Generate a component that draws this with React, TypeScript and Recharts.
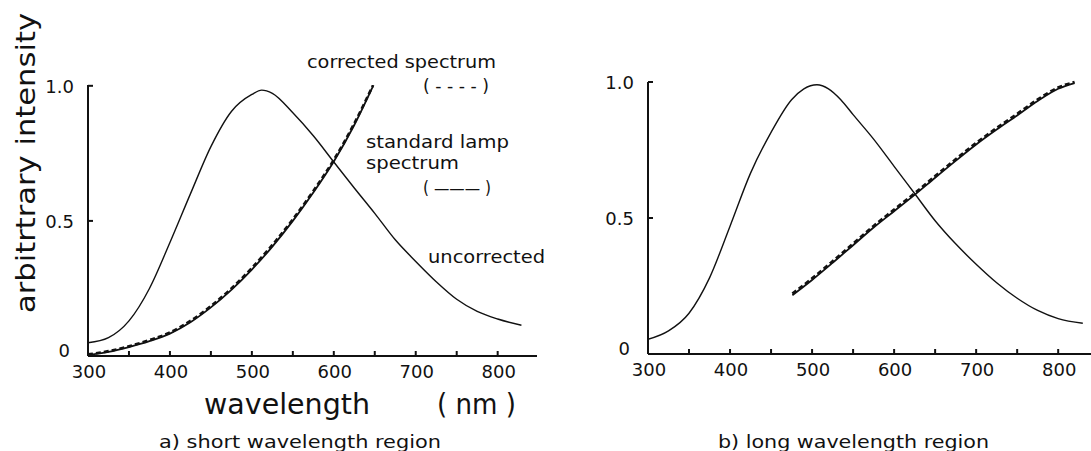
import React from 'react'
import { LineChart, Line, XAxis, YAxis } from 'recharts'

// a) short wavelength region
const leftUncNm = [300, 325, 350, 375, 400, 425, 450, 475, 500, 512, 525, 550, 575, 600, 625, 650, 675, 700, 725, 750, 775, 800, 829]
const leftUncVal = [0.049, 0.068, 0.13, 0.25, 0.42, 0.6, 0.775, 0.905, 0.968, 0.984, 0.972, 0.9, 0.815, 0.718, 0.622, 0.528, 0.43, 0.35, 0.275, 0.21, 0.165, 0.137, 0.114]
const leftLampNm = [300, 325, 350, 375, 400, 425, 450, 475, 500, 525, 550, 575, 600, 625, 648]
const leftLampVal = [0.003, 0.015, 0.033, 0.055, 0.083, 0.125, 0.18, 0.245, 0.32, 0.405, 0.5, 0.605, 0.72, 0.855, 1.0]
const leftCorrVal = [0.006, 0.018, 0.036, 0.059, 0.087, 0.13, 0.185, 0.25, 0.326, 0.411, 0.506, 0.611, 0.726, 0.861, 1.003]

// b) long wavelength region
const rightUncNm = [300, 325, 350, 375, 400, 425, 450, 475, 490, 506, 520, 535, 550, 575, 600, 625, 650, 675, 700, 725, 750, 775, 800, 830]
const rightUncVal = [0.054, 0.085, 0.15, 0.28, 0.47, 0.665, 0.815, 0.935, 0.975, 0.99, 0.975, 0.935, 0.88, 0.79, 0.69, 0.59, 0.49, 0.405, 0.33, 0.262, 0.205, 0.16, 0.13, 0.113]
const rightLampNm = [476, 500, 525, 550, 575, 600, 625, 650, 675, 700, 725, 750, 775, 800, 820]
const rightLampVal = [0.216, 0.272, 0.335, 0.4, 0.465, 0.525, 0.585, 0.648, 0.71, 0.77, 0.825, 0.877, 0.93, 0.975, 0.996]
const rightCorrVal = [0.222, 0.278, 0.341, 0.406, 0.471, 0.531, 0.591, 0.654, 0.716, 0.776, 0.831, 0.883, 0.936, 0.98, 1.0]

const xTicks = [300, 350, 400, 450, 500, 550, 600, 650, 700, 750, 800]
const yTicks = [0, 0.5, 1.0]
const yTickLabels = ['0', '0.5', '1.0']

const FONT = '"DejaVu Sans", sans-serif'
const INK = '#111'

const toPoints = (nm: number[], v: number[]) => nm.map((x, i) => ({ nm: x, v: v[i] }))

const XTick = ({ x, y, payload }: any) => {
  const show = payload.value % 100 === 0
  return (
    <g>
      <line x1={x} y1={y} x2={x} y2={y - 5} stroke={INK} strokeWidth={2} />
      {show && (
        <text x={x + 1} y={y + 22} textAnchor="middle" fontSize={18} fontFamily={FONT} fill={INK}>
          {payload.value}
        </text>
      )}
    </g>
  )
}

const YTick = ({ x, y, payload }: any) => {
  const idx = yTicks.indexOf(payload.value)
  const isZero = payload.value === 0
  return (
    <g>
      <line x1={x} y1={y} x2={x + 5} y2={y} stroke={INK} strokeWidth={2} />
      <text x={x - (isZero ? 18 : 14)} y={y + (isZero ? 1 : 7)} textAnchor="end" fontSize={18} fontFamily={FONT} fill={INK}>
        {yTickLabels[idx]}
      </text>
    </g>
  )
}

interface PanelProps {
  width: number
  margin: { top: number; right: number; bottom: number; left: number }
  domain: [number, number]
  unc: { nm: number; v: number }[]
  lamp: { nm: number; v: number }[]
  corr: { nm: number; v: number }[]
}

function Panel({ width, margin, domain, unc, lamp, corr }: PanelProps) {
  return (
    <LineChart width={width} height={451} margin={margin}>
      <XAxis
        dataKey="nm"
        type="number"
        domain={domain}
        ticks={xTicks}
        interval={0}
        allowDataOverflow
        height={30}
        tickSize={0}
        tickMargin={0}
        tickLine={false}
        axisLine={{ stroke: INK, strokeWidth: 2 }}
        tick={<XTick />}
      />
      <YAxis
        type="number"
        domain={[0, 1]}
        ticks={yTicks}
        interval={0}
        width={40}
        tickSize={0}
        tickMargin={0}
        tickLine={false}
        axisLine={{ stroke: INK, strokeWidth: 2 }}
        tick={<YTick />}
      />
      <Line data={unc} dataKey="v" type="monotone" stroke={INK} strokeWidth={1.4} dot={false} isAnimationActive={false} />
      <Line data={lamp} dataKey="v" type="monotone" stroke={INK} strokeWidth={1.8} dot={false} isAnimationActive={false} />
      <Line data={corr} dataKey="v" type="monotone" stroke={INK} strokeWidth={2.6} strokeDasharray="5 3" dot={false} isAnimationActive={false} />
    </LineChart>
  )
}

export default function App() {
  const textStyle = { fontFamily: FONT, fill: INK }
  return (
    <div style={{ position: 'absolute', left: 0, top: 0, width: 1091, height: 451, background: '#fff', overflow: 'hidden' }}>
      <div style={{ position: 'absolute', left: 0, top: 0 }}>
        <Panel
          width={560}
          margin={{ top: 85, right: 23, bottom: 65, left: 48 }}
          domain={[300, 848]}
          unc={toPoints(leftUncNm, leftUncVal)}
          lamp={toPoints(leftLampNm, leftLampVal)}
          corr={toPoints(leftLampNm, leftCorrVal)}
        />
      </div>
      <div style={{ position: 'absolute', left: 560, top: 0 }}>
        <Panel
          width={531}
          margin={{ top: 82, right: 0, bottom: 67, left: 48 }}
          domain={[300, 840]}
          unc={toPoints(rightUncNm, rightUncVal)}
          lamp={toPoints(rightLampNm, rightLampVal)}
          corr={toPoints(rightLampNm, rightCorrVal)}
        />
      </div>
      <svg width={1091} height={451} style={{ position: 'absolute', left: 0, top: 0, pointerEvents: 'none' }}>
        <text transform="translate(35,163) rotate(-90)" textAnchor="middle" fontSize={26} textLength={300} lengthAdjust="spacingAndGlyphs" {...textStyle}>
          arbitrtrary intensity
        </text>
        <text x={204} y={414} fontSize={29} textLength={166} lengthAdjust="spacingAndGlyphs" {...textStyle}>wavelength</text>
        <text x={437} y={414} fontSize={29} textLength={79} lengthAdjust="spacingAndGlyphs" {...textStyle}>( nm )</text>
        <text x={159} y={448} fontSize={17} textLength={282} lengthAdjust="spacingAndGlyphs" {...textStyle}>a)  short wavelength region</text>
        <text x={718} y={448} fontSize={17} textLength={271} lengthAdjust="spacingAndGlyphs" {...textStyle}>b)  long wavelength region</text>
        <text x={307} y={68} fontSize={18} textLength={189} lengthAdjust="spacingAndGlyphs" {...textStyle}>corrected spectrum</text>
        <text x={423} y={92} fontSize={18} textLength={66} lengthAdjust="spacingAndGlyphs" {...textStyle}>( - - - - )</text>
        <text x={366} y={148} fontSize={18} textLength={143} lengthAdjust="spacingAndGlyphs" {...textStyle}>standard lamp</text>
        <text x={366} y={169} fontSize={18} textLength={93} lengthAdjust="spacingAndGlyphs" {...textStyle}>spectrum</text>
        <text x={423} y={194} fontSize={18} textLength={68} lengthAdjust="spacingAndGlyphs" {...textStyle}>( ——— )</text>
        <text x={428} y={263} fontSize={18} textLength={117} lengthAdjust="spacingAndGlyphs" {...textStyle}>uncorrected</text>
      </svg>
    </div>
  )
}
